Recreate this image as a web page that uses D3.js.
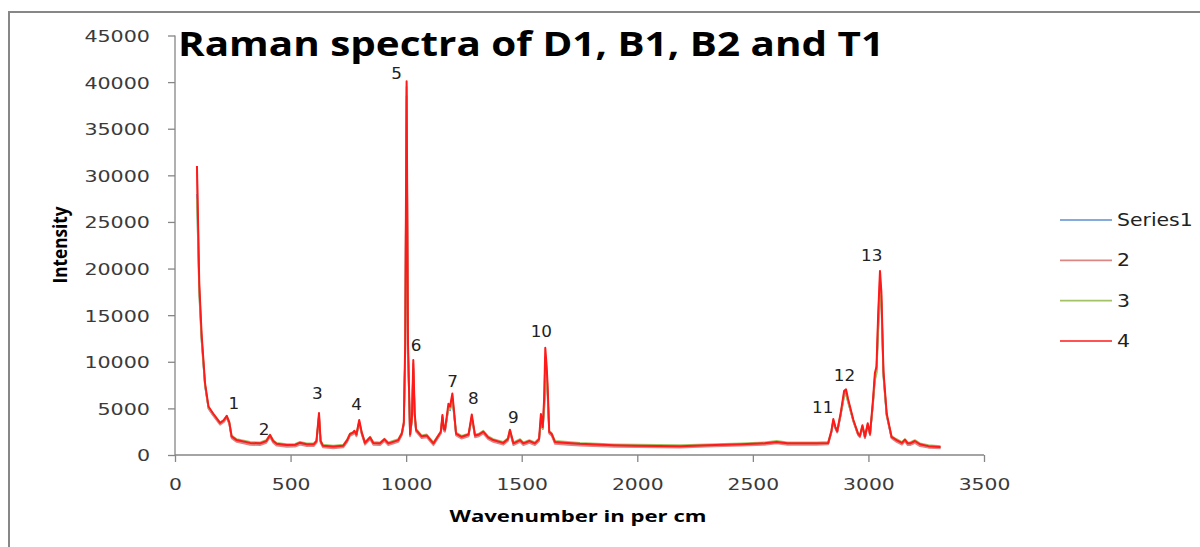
<!DOCTYPE html>
<html><head><meta charset="utf-8">
<script src="https://cdn.jsdelivr.net/npm/d3@7"></script>
<style>body{margin:0;background:#fff}svg{display:block}</style>
</head><body>
<svg id="chart" width="1200" height="547"></svg>
<script>
const wavenumber = [95,105,115,130,145,165,195,210,224,235,
 245,267,325,368,395,411,425,440,483,520,
 541,570,600,612,623,630,640,685,728,745,
 757,770,776,785,797,808,822,844,858,887,
 906,923,966,981,990,996,1002,1008,1017,1025,
 1031,1037,1043,1067,1089,1118,1150,1157,1163,1168,
 1183,1190,1200,1208,1216,1240,1270,1284,1298,1315,
 1334,1355,1377,1420,1440,1449,1464,1493,1507,1533,
 1557,1575,1583,1591,1597,1602,1608,1612,1619,1630,
 1644,1700,1752,1900,2000,2185,2300,2450,2550,2603,
 2650,2776,2826,2840,2848,2857,2865,2880,2895,2903,
 2912,2935,2955,2963,2974,2985,2997,3007,3020,3028,
 3035,3042,3050,3056,3065,3079,3100,3122,3145,3158,
 3170,3180,3201,3223,3260,3312];

const series1 = [28000,17500,12400,7400,5000,4300,3350,3600,4050,3400,
 1900,1500,1200,1150,1400,2000,1400,1100,980,1000,
 1220,1050,1050,1350,4100,1400,920,820,920,1500,
 2150,2300,2450,2100,3500,2300,1200,1800,1200,1150,
 1600,1150,1500,2200,3300,11000,38500,11000,2100,3700,
 9300,4200,2600,1900,2000,1150,2350,4000,2650,2550,
 5000,4800,6000,4200,2200,1850,2100,4000,2000,2100,
 2400,1800,1500,1200,1600,2550,1150,1500,1150,1400,
 1150,1600,3600,2800,5000,7800,8000,6500,2400,2150,
 1300,1200,1100,980,940,900,1000,1100,1200,1350,
 1200,1200,1250,2450,3600,2850,2450,4250,6400,6600,
 5700,3600,2200,1950,3000,1850,3200,2150,5600,8200,
 8900,13500,17500,16500,8500,4200,1850,1500,1200,1550,
 1150,1150,1400,1050,880,800];

const series2 = [30500,18000,12700,7500,5000,4250,3250,3500,4000,3300,
 1800,1400,1100,1050,1300,1950,1300,1000,880,900,
 1120,950,950,1300,4300,1300,820,720,820,1400,
 2050,2200,2400,2000,3550,2200,1100,1700,1100,1050,
 1500,1050,1400,2100,3300,11500,39500,11500,2000,3800,
 9800,4300,2500,1800,1900,1050,2300,4100,2600,2500,
 5200,5000,6300,4300,2100,1750,2000,4150,1900,2000,
 2300,1700,1400,1100,1500,2500,1050,1400,1050,1300,
 1050,1500,4100,2800,5600,10500,9000,7000,2300,2050,
 1200,1100,1000,880,840,800,900,1000,1100,1250,
 1100,1100,1150,2450,3700,2850,2400,4350,6700,6850,
 5850,3600,2150,1900,3050,1800,3250,2100,5800,8500,
 9200,14500,19000,17000,8700,4300,1800,1400,1100,1450,
 1050,1050,1300,950,780,700];

const series3 = [27500,17200,12300,7500,5100,4450,3500,3750,4200,3550,
 2100,1700,1400,1350,1600,2200,1600,1300,1170,1200,
 1400,1250,1250,1550,4200,1550,1100,1000,1100,1700,
 2300,2450,2600,2300,3600,2450,1400,1950,1400,1350,
 1750,1350,1700,2400,3500,11000,38000,11000,2300,3800,
 9200,4300,2800,2100,2200,1350,2550,4100,2850,2750,
 5000,4900,5900,4300,2400,2050,2300,4050,2200,2300,
 2600,2000,1700,1400,1800,2700,1350,1700,1350,1600,
 1350,1800,3500,2900,4800,7600,7900,6400,2600,2350,
 1500,1400,1300,1150,1100,1050,1150,1250,1350,1500,
 1350,1350,1400,2600,3650,3050,2650,4400,6300,6500,
 5650,3700,2350,2150,3100,2050,3300,2350,5500,8000,
 8700,13200,17300,16200,8400,4250,2050,1700,1400,1700,
 1350,1350,1600,1250,1050,950];

const series4 = [31000,18400,13000,7700,5200,4450,3450,3700,4200,3500,
 2000,1600,1300,1250,1500,2150,1500,1200,1070,1100,
 1320,1150,1150,1500,4500,1500,1000,900,1000,1600,
 2250,2400,2600,2200,3750,2400,1300,1900,1300,1250,
 1700,1250,1600,2300,3500,12000,40100,12000,2200,4000,
 10200,4500,2700,2000,2100,1250,2500,4300,2800,2700,
 5500,5200,6600,4500,2300,1950,2200,4350,2100,2200,
 2500,1900,1600,1300,1700,2700,1250,1600,1250,1500,
 1250,1700,4400,3000,6000,11500,9500,7500,2500,2250,
 1400,1300,1200,1050,1000,950,1050,1150,1250,1400,
 1250,1250,1300,2600,3850,3000,2550,4500,6900,7050,
 6000,3750,2300,2050,3200,1950,3400,2250,6000,8800,
 9500,15000,19750,17500,9000,4450,1950,1600,1300,1650,
 1250,1250,1500,1150,950,850];

const seriesNames = ["Series1", "2", "3", "4"];
const xTicks = [0, 500, 1000, 1500, 2000, 2500, 3000, 3500];
const yTicks = [0, 5000, 10000, 15000, 20000, 25000, 30000, 35000, 40000, 45000];
const peakLabels = ["1","2","3","4","5","6","7","8","9","10","11","12","13"];
const peakWavenumber = [255,386,616,786,959,1043,1201,1291,1464,1585,2802,2896,3014];
const peakIntensity = [5600,2750,6610,5430,40960,11790,7960,6070,4040,13320,5110,8570,21430];
const titleText = "Raman spectra of D1, B1, B2 and T1";
const xTitle = "Wavenumber in per cm";
const yTitle = "Intensity";

const colors = ["#5B8FD0", "#DC8583", "#A3C266", "#FF1A1A"];
const allSeries = [series1, series2, series3, series4];

const svg = d3.select("#chart");
const x = d3.scaleLinear().domain([0, 3500]).range([175, 984]);
const y = d3.scaleLinear().domain([0, 45000]).range([455, 35.5]);

function stretch(sel, f) {
  sel.each(function () {
    const L = this.getComputedTextLength();
    this.setAttribute("textLength", L * f);
    this.setAttribute("lengthAdjust", "spacingAndGlyphs");
  });
}
function fitTo(sel, w) {
  sel.attr("textLength", w).attr("lengthAdjust", "spacingAndGlyphs");
}

// outer chart border
svg.append("rect").attr("x", 9).attr("y", 12).attr("width", 1250).attr("height", 600)
  .attr("fill", "none").attr("stroke", "#878787").attr("stroke-width", 2);

// axes
const axisColor = "#868686";
const yAxis = svg.append("g").attr("transform", "translate(175,0)")
  .call(d3.axisLeft(y).tickValues(yTicks).tickFormat(d3.format("d")).tickSize(7).tickPadding(18));
const xAxis = svg.append("g").attr("transform", "translate(0,455)")
  .call(d3.axisBottom(x).tickValues(xTicks).tickFormat(d3.format("d")).tickSize(7).tickPadding(16));
[yAxis, xAxis].forEach(a => {
  a.select(".domain").attr("stroke", axisColor).attr("stroke-width", 1.3);
  a.selectAll(".tick line").attr("stroke", axisColor).attr("stroke-width", 1.3);
  a.selectAll(".tick text").attr("fill", "#3a3a3a")
    .style("font-family", "'DejaVu Sans', sans-serif").style("font-size", "16.5px");
});
yAxis.select(".domain").attr("d", "M0,35.5V455");
xAxis.select(".domain").attr("d", "M175,0H984");
yAxis.selectAll(".tick text").attr("dy", "0.36em");
xAxis.selectAll(".tick text").attr("dy", "0.71em");
stretch(yAxis.selectAll(".tick text"), 1.25);
stretch(xAxis.selectAll(".tick text"), 1.23);

// lines
const line = d3.line().x((d, i) => x(wavenumber[i])).y(d => y(d));
allSeries.forEach((s, k) => {
  svg.append("path").datum(s).attr("d", line)
    .attr("fill", "none").attr("stroke", colors[k])
    .attr("stroke-width", k === 3 ? 2 : 1.8).attr("stroke-linejoin", "round");
});

// peak labels
const pl = svg.append("g").selectAll("text").data(peakLabels).join("text")
  .attr("x", (d, i) => x(peakWavenumber[i]))
  .attr("y", (d, i) => y(peakIntensity[i]))
  .attr("dy", "0.36em").attr("text-anchor", "middle")
  .attr("fill", "#222").style("font-family", "'DejaVu Sans', sans-serif").style("font-size", "16px")
  .text(d => d);
stretch(pl, 1.05);

// title
const t = svg.append("text").attr("x", 178).attr("y", 56)
  .style("font-family", "'Open Sans', sans-serif").style("font-weight", 700).style("font-size", "34px")
  .attr("fill", "#000").text(titleText);
fitTo(t, 706);

// axis titles
const xt = svg.append("text").attr("x", 578).attr("y", 522).attr("text-anchor", "middle")
  .style("font-family", "'Open Sans', sans-serif").style("font-weight", 700).style("font-size", "16px")
  .attr("fill", "#000").text(xTitle);
fitTo(xt, 257);
const yt = svg.append("text").attr("transform", "translate(67,245) scale(1.25,1) rotate(-90)")
  .attr("text-anchor", "middle")
  .style("font-family", "'Open Sans', sans-serif").style("font-weight", 700).style("font-size", "15px")
  .attr("fill", "#000").text(yTitle);
fitTo(yt, 77);

// legend
const lg = svg.append("g");
const legendY = d3.scalePoint().domain(seriesNames).range([220, 341]);
seriesNames.forEach((n, k) => {
  lg.append("line").attr("x1", 1060).attr("x2", 1112)
    .attr("y1", legendY(n)).attr("y2", legendY(n))
    .attr("stroke", colors[k]).attr("stroke-width", 1.6);
  const tx = lg.append("text").attr("x", 1117).attr("y", legendY(n)).attr("dy", "0.36em")
    .attr("fill", "#222").style("font-family", "'DejaVu Sans', sans-serif").style("font-size", "17px")
    .text(n);
  stretch(tx, 1.2);
});
</script>
</body></html>
